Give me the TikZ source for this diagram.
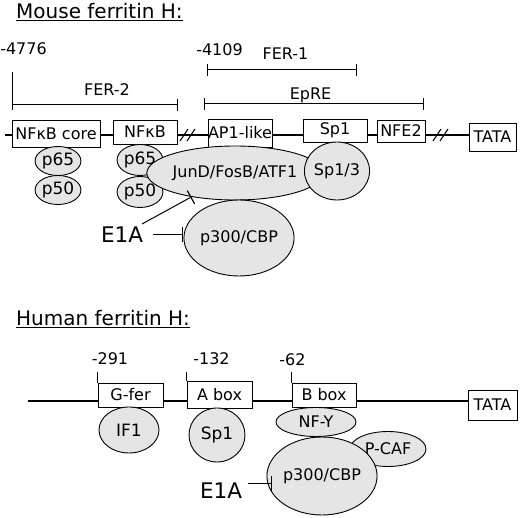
\documentclass[tikz,border=0pt]{standalone}
\usepackage{fontspec}
\setmainfont{DejaVu Sans}
\usetikzlibrary{shapes.geometric,arrows.meta}

\begin{document}
\begin{tikzpicture}[x=1pt,y=-1pt,
  lbl/.style={font=\fontsize{16}{19}\selectfont, inner sep=0pt},
  site/.style={draw, fill=white, line width=0.9pt, lbl},
  factor/.style={ellipse, draw, fill=gray!20, line width=0.9pt, lbl},
  small/.style={factor, font=\fontsize{17}{20}\selectfont},
  title/.style={font=\fontsize{20}{24}\selectfont, anchor=base west, inner sep=0pt},
  big/.style={font=\fontsize{21.5}{25}\selectfont, inner sep=2pt},
  dna/.style={line width=2.2pt},
  span/.style={line width=1pt},
  inhibit/.style={line width=1pt, -{Bar[width=15pt,line width=1.2pt]}}]
\useasboundingbox (0,0) rectangle (520,518);

% Mouse promoter
\node[title] (mtitle) at (16,19) {\underline{Mouse ferritin H:}};
\node[lbl] (m4776) at (23.5,48.5) {-4776};
\node[lbl] (m4109) at (219.5,50) {-4109};
\node[lbl] (fer1) at (285.5,54) {FER-1};
\node[lbl] (fer2) at (107,90) {FER-2};
\node[lbl] (epre) at (310.5,95) {EpRE};
% spans
\draw[span] (12,72) -- (12,110);
\draw[span,-{Bar[width=12pt]}] (12,105) -- (178,105);
\draw[span,{Bar[width=12pt]}-{Bar[width=12pt]}] (207,70) -- (357,70);
\draw[span,{Bar[width=12pt]}-{Bar[width=12pt]}] (204,104) -- (424,104);
% DNA and sites
\coordinate (mstart) at (5,135);
\node[site, minimum width=47pt, minimum height=28pt] (mtata) at (492.5,137) {TATA};
\draw[dna] (mstart) -- (mstart -| mtata.west);
\draw[line width=1pt] (180,141) -- (188,129) (187,141) -- (195,129);
\draw[line width=1pt] (433,141) -- (441,129) (440,141) -- (448,129);
\node[site, minimum width=88pt, minimum height=27pt] (nfkbcore) at (56,133.5) {NFκB core};
\node[site, minimum width=64pt, minimum height=24pt] (nfkb) at (145,132) {NFκB};
\node[site, minimum width=64pt, minimum height=28pt] (ap1) at (240,133) {AP1-like};
\node[site, minimum width=64pt, minimum height=23pt] (msp1) at (335,130.5) {Sp1};
\node[site, minimum width=48pt, minimum height=22pt] (nfe2) at (401,131) {NFE2};
% factors
\node[small, minimum width=37pt, minimum height=29pt] (p65a) at (58,161) {p65};
\node[small, minimum width=37pt, minimum height=29pt] (p50a) at (58,190) {p50};
\node[small, minimum width=33pt, minimum height=31pt] (p65b) at (140,160) {p65};
\node[small, minimum width=33pt, minimum height=31pt] (p50b) at (140,192) {p50};
\node[factor, minimum width=144pt, minimum height=54pt] (jund) at (235,173) {JunD/FosB/ATF1};
\node[factor, minimum width=60pt, minimum height=58pt] (sp13) at (337,171) {Sp1/3};
\node[factor, minimum width=88pt, minimum height=76pt] (p300m) at (239,238) {p300/CBP};
\node[big] (e1am) at (122,235) {E1A};
\draw[inhibit, shorten <=2pt] (e1am) -- (jund);
\draw[inhibit, shorten <=8pt] (e1am.east) -- (e1am.east -| p300m.west);

% Human promoter
\node[title] (htitle) at (16,326) {\underline{Human ferritin H:}};
\coordinate (hstart) at (28,401);
\node[site, minimum width=49pt, minimum height=30pt] (htata) at (492.5,405) {TATA};
\draw[dna] (hstart) -- (hstart -| htata.west);
\node[site, minimum width=65pt, minimum height=24pt] (gfer) at (130.5,395) {G-fer};
\node[site, minimum width=65pt, minimum height=27pt] (abox) at (219.5,394.5) {A box};
\node[site, minimum width=64pt, minimum height=24pt] (bbox) at (324,395) {B box};
\draw[span] (gfer.north west) -- ++(0,-11);
\draw[span] (abox.north west) -- ++(0,-9);
\draw[span] (bbox.north west) -- ++(0,-11);
\node[lbl] (h291) at (110,359) {-291};
\node[lbl] (h132) at (211.5,359) {-132};
\node[lbl] (h62) at (292.5,360) {-62};
\node[small, minimum width=60pt, minimum height=46pt] (if1) at (129,430) {IF1};
\node[small, minimum width=56pt, minimum height=54pt] (hsp1) at (217,435) {Sp1};
\node[factor, minimum width=80pt, minimum height=29pt] (nfy) at (316,422) {NF-Y};
\node[factor, minimum width=76pt, minimum height=35pt] (pcaf) at (388,449) {P-CAF};
\node[factor, minimum width=80pt, minimum height=78pt] (p300h) at (322,476) {p300/CBP};
\node[big] (e1ah) at (221,491) {E1A};
\coordinate (hbar) at (272,484);
\draw[inhibit, shorten <=4pt] (e1ah.east |- hbar) -- (hbar);
\end{tikzpicture}
\end{document}
